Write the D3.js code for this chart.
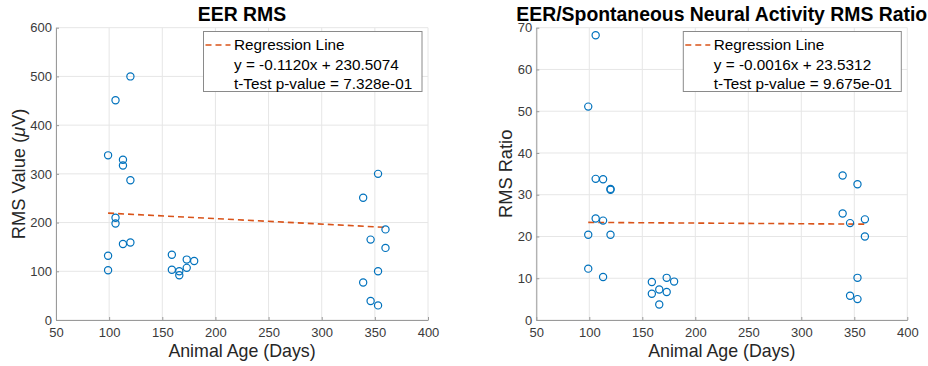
<!DOCTYPE html>
<html><head><meta charset="utf-8">
<script src="https://cdn.jsdelivr.net/npm/d3@7"></script>
<style>
body{margin:0;background:#fff;}
svg{display:block;font-family:"Liberation Sans",Arial,Helvetica,sans-serif;}
</style></head>
<body><svg id="c" width="928" height="366"></svg>
<script>
// ---- Data ----
const agesDays = [99,99,99,106,106,106,113,113,113,120,120,120,159,159,166,166,173,173,180,339,339,346,346,353,353,353,360,360];
const eerRms   = [338,132,102,451,210,198,329,317,156,500,287,159,134,103,100,92,124,107,121,251,77,165,39,300,100,30,186,148];
const rmsRatio = [51.1,20.4,12.3,68.2,33.8,24.3,33.7,23.8,10.3,31.4,31.2,20.4,9.1,6.3,7.3,3.7,10.1,6.7,9.2,34.6,25.5,23.2,5.8,32.5,10.1,5.0,24.1,20.0];
const xTicks = [50,100,150,200,250,300,350,400];
const yTicksLeft = [0,100,200,300,400,500,600];
const yTicksRight = [0,10,20,30,40,50,60,70];
const titles = ["EER RMS","EER/Spontaneous Neural Activity RMS Ratio"];
const slopes = [-0.1120,-0.0016];
const intercepts = [230.5074,23.5312];
const legendLines = [
  ["Regression Line","y = -0.1120x + 230.5074","t-Test p-value = 7.328e-01"],
  ["Regression Line","y = -0.0016x + 23.5312","t-Test p-value = 9.675e-01"]
];

const svg = d3.select("#c");
const panels = [
  {x0:56, x1:428, yDom:[0,600], yTicks:yTicksLeft, vals:eerRms, legX:[203.5,422], ylabX:19, ylab:"rms"},
  {x0:536.3, x1:907.3, yDom:[0,70], yTicks:yTicksRight, vals:rmsRatio, legX:[683.3,901.3], ylabX:506, ylab:"ratio"}
];
const yTop = 27.7, yBot = 320;

panels.forEach((p,i)=>{
  const x = d3.scaleLinear().domain([50,400]).range([p.x0,p.x1]);
  const y = d3.scaleLinear().domain(p.yDom).range([yBot,yTop]);
  const g = svg.append("g");
  // grid
  g.append("g").selectAll("line").data(xTicks).join("line")
    .attr("x1",d=>x(d)).attr("x2",d=>x(d)).attr("y1",yTop).attr("y2",yBot)
    .attr("stroke","#e6e6e6").attr("stroke-width",1);
  g.append("g").selectAll("line").data(p.yTicks).join("line")
    .attr("y1",d=>y(d)).attr("y2",d=>y(d)).attr("x1",p.x0).attr("x2",p.x1)
    .attr("stroke","#e6e6e6").attr("stroke-width",1);
  // axes
  const ax = g.append("g").attr("transform",`translate(0,${yBot})`)
    .call(d3.axisBottom(x).tickValues(xTicks).tickSize(-3).tickSizeOuter(0).tickPadding(8));
  const ay = g.append("g").attr("transform",`translate(${p.x0},0)`)
    .call(d3.axisLeft(y).tickValues(p.yTicks).tickSize(-3).tickSizeOuter(0).tickPadding(4));
  [ax,ay].forEach(a=>{
    a.selectAll("path,line").attr("stroke","#9a9a9a");
    a.selectAll("text").attr("fill","#3a3a3a").style("font-size","13px").style("font-family",'"Liberation Sans",Arial,sans-serif');
  });
  // regression line
  const xmin = d3.min(agesDays), xmax = d3.max(agesDays);
  const reg = [xmin,xmax].map(a=>[a, slopes[i]*a+intercepts[i]]);
  g.append("path").datum(reg)
    .attr("d",d3.line().x(d=>x(d[0])).y(d=>y(d[1])))
    .attr("fill","none").attr("stroke","#D95319").attr("stroke-width",1.6).attr("stroke-dasharray","6,4");
  // points
  g.append("g").selectAll("circle").data(agesDays).join("circle")
    .attr("cx",d=>x(d)).attr("cy",(d,j)=>y(p.vals[j])).attr("r",3.6)
    .attr("fill","none").attr("stroke","#0072BD").attr("stroke-width",1.2);
  // title
  g.append("text").attr("x",(p.x0+p.x1)/2).attr("y",20.5).attr("text-anchor","middle")
    .style("font-size","19.4px").style("font-weight","bold").attr("fill","#000").text(titles[i]);
  // x label
  g.append("text").attr("x",(p.x0+p.x1)/2).attr("y",357).attr("text-anchor","middle")
    .style("font-size","17.8px").attr("fill","#262626").text("Animal Age (Days)");
  // y label
  const yl = g.append("text").attr("transform",`translate(${p.ylabX+6},${(yTop+yBot)/2}) rotate(-90)`)
    .attr("text-anchor","middle").style("font-size","18.3px").attr("fill","#262626");
  if(p.ylab==="rms"){
    yl.append("tspan").text("RMS Value (");
    yl.append("tspan").style("font-style","italic").text("\u03BC");
    yl.append("tspan").text("V)");
  } else yl.text("RMS Ratio");
  // legend
  const lx0=p.legX[0], lx1=p.legX[1], ly0=31.5, ly1=91.5;
  g.append("rect").attr("x",lx0).attr("y",ly0).attr("width",lx1-lx0).attr("height",ly1-ly0)
    .attr("fill","#fff").attr("stroke","#8a8a8a").attr("stroke-width",1);
  g.append("line").attr("x1",lx0+2).attr("x2",lx0+27).attr("y1",45).attr("y2",45)
    .attr("stroke","#D95319").attr("stroke-width",1.6).attr("stroke-dasharray","6,4");
  legendLines[i].forEach((t,k)=>{
    g.append("text").attr("x",lx0+30.5).attr("y",45+k*19.2).attr("dy","0.35em")
      .style("font-size","15.3px").attr("fill","#000").text(t);
  });
});
</script></body></html>
